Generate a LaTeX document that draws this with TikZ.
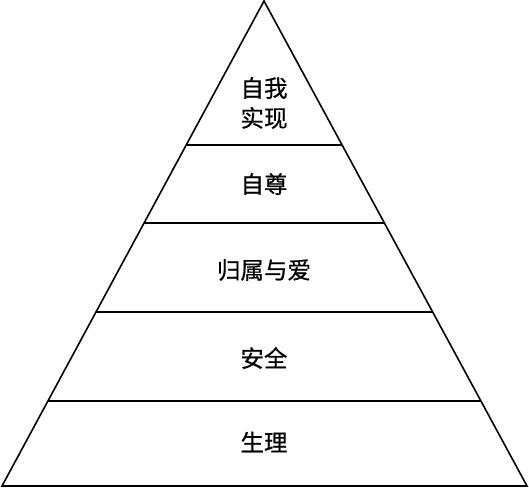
\documentclass[tikz,border=0pt]{standalone}
\usepackage{fontspec}
\newfontfamily\cjk[FakeBold=0.6]{Noto Sans CJK SC}
\usepackage{tikz}
\usetikzlibrary{calc}

\begin{document}
\begin{tikzpicture}[x=1pt, y=-1pt, line width=1.6pt,
    level/.style={font=\cjk\fontsize{23.5}{30}\selectfont, align=center}]

    \useasboundingbox (0,0) rectangle (529,487);

    \coordinate (apex) at (264,1);
    \coordinate (bl) at (2,486);
    \coordinate (br) at (527,486);

    \draw[line join=miter] (apex) -- (bl) -- (br) -- cycle;


    \foreach \h/\name in {145/a, 223/b, 312/c, 401/d} {
        \coordinate (\name L) at ($(apex)!{(\h-1)/485}!(bl)$);
        \coordinate (\name R) at ($(apex)!{(\h-1)/485}!(br)$);
        \draw (\name L) -- (\name R);
    }


    \node[level] (self) at (264,103) {自我\\实现};
    \node[level] (esteem) at (264,184) {自尊};
    \node[level] (love) at (264,270) {归属与爱};
    \node[level] (safety) at (264,358) {安全};
    \node[level] (body) at (264,442) {生理};
\end{tikzpicture}
\end{document}
